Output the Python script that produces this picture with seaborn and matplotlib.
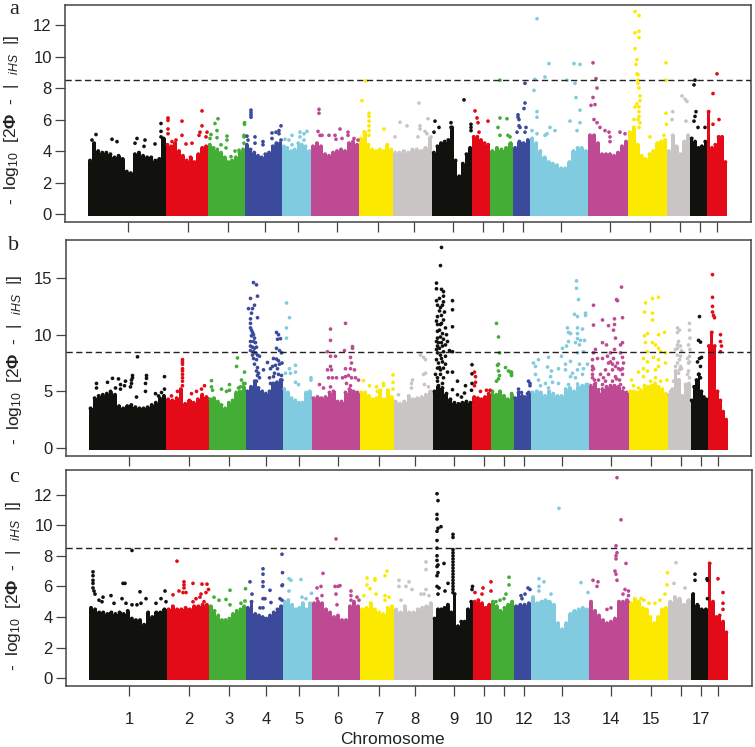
#!/usr/bin/env python3
"""
Manhattan plots of iHS scores, three panels.
"""
import numpy as np
import pandas as pd
import matplotlib
matplotlib.use('Agg')
import matplotlib.pyplot as plt
import seaborn as sns

W, H = 755, 747

# genome axis runs on one position scale shared by the panels
chrom_edges = [88, 165.5, 208, 245, 282, 311, 359, 393, 432, 471.9, 490, 513, 530, 588, 628, 667, 690, 707, 727]
chrom_colors = ['#11110d', '#e30b17', '#43ad35', '#3c4a9b', '#80cbdf', '#bd4a93', '#fbea00', '#c8c5c4',
                '#11110d', '#e30b17', '#43ad35', '#3c4a9b', '#80cbdf', '#bd4a93', '#fbea00', '#c8c5c4',
                '#11110d', '#e30b17']
tick_pos = [128, 188, 228, 265, 298, 337, 378, 414, 453, 483, 503, 523, 561, 610, 650, 680, 700, 717]
tick_labels = ['1', '2', '3', '4', '5', '6', '7', '8', '9', '10', '', '12', '13', '14', '15', '', '17', '']
threshold = 8.5

# solid mass height across each chromosome
env_a = [
    [3.4, 4.5, 4.0, 3.9, 3.9, 3.8, 3.6, 3.7, 3.5, 2.7, 2.6, 3.8, 3.9, 3.7, 3.6, 3.6, 3.4, 3.5, 4.8],
    [4.4, 4.3, 4.5, 4.0, 3.7, 3.4, 3.6, 3.3, 3.8, 4.2, 4.3],
    [4.4, 4.2, 4.1, 3.9, 3.6, 3.3, 3.4, 3.6, 3.9, 4.1],
    [4.4, 4.1, 3.9, 3.7, 3.6, 3.8, 3.9, 4.3, 4.5, 4.5],
    [4.3, 4.2, 4.0, 4.1, 4.5, 4.4, 4.3, 4.0],
    [4.3, 4.5, 4.3, 3.8, 3.7, 3.9, 4.0, 4.1, 4.0, 4.5, 4.6, 4.4],
    [4.8, 5.2, 4.4, 4.1, 4.0, 4.1, 4.0, 4.4, 4.1],
    [3.9, 3.9, 4.0, 3.9, 4.1, 4.1, 4.0, 4.2, 4.8],
    [3.9, 4.3, 4.5, 4.6, 4.7, 5.5, 3.4, 2.4, 3.2, 3.8, 4.2],
    [4.9, 4.9, 4.7, 4.5, 4.4],
    [4.0, 4.2, 4.1, 4.2, 4.5],
    [4.2, 4.6, 4.5, 4.7],
    [4.8, 4.5, 4.0, 3.6, 3.3, 3.2, 3.1, 2.9, 2.9, 3.3, 4.0, 4.2, 4.2, 4.0],
    [5.0, 5.0, 4.5, 3.8, 3.8, 3.8, 3.7, 3.9, 4.3, 4.6],
    [5.2, 5.5, 4.4, 3.7, 3.5, 3.8, 4.0, 4.5, 4.6, 4.7],
    [4.0, 5.0, 4.3, 3.8, 4.6, 5.0],
    [4.8, 4.6, 4.2, 4.3, 4.6],
    [6.5, 4.2, 4.4, 4.9, 4.9, 3.3],
]
env_b = [
    [3.5, 4.4, 4.6, 4.7, 4.8, 4.9, 4.7, 3.7, 3.5, 3.7, 3.8, 3.6, 3.5, 3.5, 3.6, 3.8, 4.0, 4.4, 4.6],
    [4.3, 4.2, 4.4, 5.2, 3.9, 4.2, 4.0, 4.3, 4.7, 4.5],
    [4.3, 4.4, 4.1, 3.8, 3.5, 4.0, 4.2, 4.9, 5.0, 5.4],
    [5.0, 5.4, 5.9, 5.3, 5.0, 4.8, 5.0, 5.7, 5.8, 6.0],
    [5.2, 4.9, 4.4, 4.2, 4.0, 4.0, 4.9, 5.0],
    [4.4, 4.5, 4.4, 4.5, 4.9, 5.0, 4.1, 4.1, 4.9, 5.2, 5.0, 4.9],
    [4.9, 4.9, 4.6, 4.3, 4.4, 5.1, 4.3, 5.1, 4.5],
    [4.1, 3.9, 4.1, 4.6, 4.3, 4.4, 4.5, 4.7, 5.0],
    [5.0, 5.5, 5.3, 4.8, 4.3, 4.0, 3.9, 4.0, 4.1, 4.0],
    [4.5, 4.4, 4.3, 4.5, 4.8],
    [5.0, 4.7, 5.0, 4.6, 4.3, 4.8],
    [4.4, 4.9, 4.6, 4.5, 4.9],
    [4.9, 5.0, 4.9, 4.6, 5.0, 4.8, 4.6, 4.6, 5.2, 5.3, 5.0, 5.4, 5.5, 5.6],
    [5.5, 5.6, 4.9, 5.2, 5.4, 5.5, 5.5, 5.4, 5.0, 4.9],
    [5.0, 5.0, 4.9, 5.1, 5.5, 5.4, 5.5, 5.7, 5.4, 5.2, 4.8],
    [4.7, 5.2, 6.8, 6.0, 4.6, 5.6, 5.7],
    [4.2, 5.4, 6.0, 6.5, 5.0, 4.5, 4.3],
    [9.0, 10.2, 9.0, 5.0, 4.2, 3.2, 2.5],
]
env_c = [
    [4.6, 4.5, 4.3, 4.3, 4.2, 4.3, 4.2, 4.3, 4.2, 4.4, 3.9, 3.8, 3.8, 3.5, 4.3, 4.0, 4.3, 4.3, 4.5],
    [4.5, 4.7, 4.5, 4.5, 4.6, 4.5, 4.7, 4.7, 4.8, 4.8],
    [4.7, 4.4, 4.1, 3.8, 3.8, 3.9, 4.2, 4.4, 4.5, 4.7],
    [4.6, 5.0, 4.2, 4.1, 4.0, 3.9, 4.1, 4.3, 4.5, 4.7],
    [5.0, 5.1, 4.8, 4.5, 4.6, 4.9, 4.5, 4.9],
    [4.9, 5.0, 4.9, 4.5, 4.3, 4.0, 4.1, 3.8, 3.8, 4.7, 5.0, 4.7],
    [4.5, 4.6, 4.9, 4.5, 4.3, 4.2, 4.6, 4.7],
    [4.5, 4.3, 4.7, 4.3, 4.3, 4.5, 4.6, 4.7, 4.9],
    [3.9, 4.5, 4.5, 4.6, 4.8, 4.3, 5.5, 3.4, 3.7, 3.7, 4.5, 5.0],
    [5.0, 5.1, 4.9, 4.6, 4.8],
    [5.0, 4.7, 4.4, 4.6, 4.8, 5.0],
    [4.7, 4.8, 4.8, 4.9],
    [5.3, 4.9, 5.0, 5.1, 5.0, 4.8, 3.6, 3.2, 3.6, 4.2, 4.4, 4.5, 4.6, 4.5],
    [5.0, 4.4, 4.1, 3.8, 3.6, 3.7, 3.9, 5.0, 5.0, 5.1],
    [4.9, 5.2, 5.0, 4.6, 4.5, 4.0, 3.6, 4.0, 4.5, 4.6],
    [5.0, 5.3, 5.2, 4.8, 5.1],
    [5.5, 4.8, 4.5, 4.5],
    [7.5, 5.0, 4.0, 4.1, 3.7, 3.0],
]

# isolated markers above the mass, (position, score)
hits_a = [
    (96, 5.05), (92, 4.7), (112, 4.75), (117, 4.6), (137, 4.8), (145, 4.7), (135, 4.5), (144, 4.3), (155, 4.45),
    (161, 5.75), (161, 5.25), (161, 4.9),
    (168, 6.1), (168, 5.95), (168, 5.4), (168, 5.1), (182, 5.9), (182, 5.0), (202, 6.55), (202, 5.6), (200, 5.2),
    (199, 5.0), (207, 5.2), (206, 4.9), (172, 4.6), (176, 4.7), (186, 4.45), (192, 4.5),
    (218, 6.05), (215, 5.75), (217, 5.3), (211, 5.05), (217, 4.85), (210, 4.8), (227, 4.95), (227, 4.7), (221, 4.4),
    (226, 4.2), (231, 3.65), (235, 4.0), (239, 4.05), (244.5, 5.8), (244.5, 5.7), (244, 5.0), (244, 4.9), (244, 4.5),
    (251, 6.6), (251, 6.45), (251, 6.3), (251, 6.15), (247, 4.95), (255, 4.9), (248, 4.7), (255, 4.5), (263, 4.6),
    (263, 4.4), (272, 5.15), (272, 4.8), (276, 5.2), (279, 5.3), (281, 5.6), (279, 5.1), (281, 4.7), (276, 4.4),
    (292, 5.0), (285, 4.75), (289, 4.7), (300, 5.2), (304, 5.1), (307, 5.25), (300, 4.9), (304, 4.7), (292, 4.4),
    (319, 6.65), (319, 6.4), (318, 5.25), (320, 5.0), (322, 5.0), (329, 5.0), (335, 5.0), (336, 4.75), (340, 5.4),
    (348, 5.2), (348, 5.0), (354, 4.8), (358, 4.7), (342, 4.8),
    (366, 8.45), (362, 7.2), (369, 6.4), (369, 6.2), (369, 5.9), (369, 5.6), (369, 5.3), (369, 5.0), (364, 5.2), (384, 5.4),
    (400, 5.83), (407, 5.6), (395, 4.9), (420, 5.6), (420, 5.4), (419, 7.05), (428, 6.05), (418, 4.9), (431, 4.9),
    (425, 5.25), (427, 5.1),
    (464, 7.25), (435, 5.9), (439, 5.5), (434, 5.2), (471, 5.7), (471, 5.5), (471, 5.3), (451, 5.8), (451, 5.5),
    (475, 6.55), (477, 6.1), (478, 5.8), (479, 5.2), (488, 5.9),
    (500, 8.5), (500, 6.1), (507, 6.05), (498, 5.5), (500, 5.0), (508, 5.0), (510, 4.9),
    (525, 8.3), (525, 7.05), (524, 6.7), (518, 6.3), (518, 6.15), (519, 6.0), (519, 5.6), (520, 5.5), (526, 5.5),
    (517, 5.2), (525, 5.2),
    (537, 12.4), (549, 9.55), (545, 8.7), (535, 8.55), (534, 7.85), (537, 6.5), (537, 6.15), (550, 5.5), (555, 5.3),
    (574, 9.55), (580, 9.5), (567, 8.5), (575, 8.3), (576, 7.4), (580, 6.6), (570, 5.9), (580, 5.8), (577, 5.3),
    (532, 5.3), (537, 5.1), (545, 5.0), (547, 5.1),
    (593, 9.6), (596, 8.6), (597, 8.0), (593, 7.4), (591, 6.9), (595, 6.95), (594, 6.0), (597, 5.8), (600, 5.5),
    (605, 5.3), (609, 5.2), (610, 4.9), (610, 4.6), (620, 5.2), (625, 5.1),
    (635, 12.85), (639, 12.6), (635, 11.5), (639, 11.6), (639, 11.2), (635, 10.5), (637, 9.8), (636, 9.5), (637, 8.9),
    (638, 8.85), (638, 8.5), (638, 8.3), (639, 8.0), (640, 7.5), (640, 7.2), (637, 7.0), (635, 6.8), (639, 6.8),
    (639, 6.5), (639, 6.2), (638, 6.0), (634, 6.0), (640, 5.8), (639, 5.5),
    (666, 9.6), (666, 8.5), (666, 6.4), (666.5, 5.7), (664, 5.0), (650, 4.9),
    (682, 7.5), (685, 7.3), (687, 7.15), (672.7, 6.5), (672, 6.0), (686, 5.9),
    (695, 8.5), (694, 8.2), (696, 6.5), (695, 6.2), (694, 5.9), (698, 5.5), (705, 5.5),
    (717, 8.9), (713, 7.65), (719, 6.0), (713, 5.7),
]
hits_b = [
    (96, 5.7), (96, 5.3), (107, 5.8), (112, 6.15), (118, 6.1), (120, 5.6), (120, 5.2), (125, 5.9), (124, 5.5),
    (132, 6.4), (132, 6.2), (131, 6.0), (131, 5.7), (130, 5.4), (136, 4.5), (137, 8.05), (146, 6.4), (146, 6.15),
    (145, 5.7), (145, 5.0), (155, 4.8), (158, 4.6), (164, 6.3), (164, 5.2), (161, 4.9), (110, 5.0), (115, 5.3),
    (182, 7.8), (182, 7.6), (182, 7.4), (182, 7.0), (182, 6.8), (182, 6.5), (182, 6.2), (182, 5.9), (182, 5.5),
    (171, 4.6), (177, 5.0), (191, 4.8), (196, 5.0), (204, 5.5), (201, 5.2),
    (211, 5.95), (211, 5.4), (221, 5.2), (229, 5.6), (229, 5.1), (226, 5.0), (212, 5.1), (237, 7.95), (236, 7.2),
    (244, 6.7), (241, 6.0), (243, 5.7), (240, 5.4), (244.5, 5.7), (238, 5.3),
    (253, 14.6), (256, 14.4), (257, 13.4), (250, 13.2), (254, 12.6), (248, 12.3), (252, 12.3), (251, 11.9), (250, 11.4),
    (257, 11.5), (250, 11.0), (250, 10.6), (251, 10.4), (252, 10.2), (251, 9.9), (253, 10.0), (254, 9.7), (250, 9.4),
    (253, 9.4), (255, 9.3), (250, 9.0), (252, 8.9), (254, 8.8), (256, 8.9), (250, 8.6), (253, 8.5), (255, 8.4),
    (252, 8.2), (257, 8.2), (259, 8.1), (253, 7.9), (256, 7.8), (254, 7.4), (257, 7.1), (256, 6.8), (258, 6.6),
    (257, 6.4), (259, 6.2), (256, 5.9), (263, 6.9), (267, 7.55), (270, 7.0), (276, 10.2), (278, 10.0), (280, 9.65),
    (277, 9.6), (276, 8.8), (279, 8.6), (281, 8.4), (273, 7.9), (276, 7.85), (278, 7.7), (279, 7.4), (281.5, 7.5),
    (272, 7.2), (275, 7.3), (277, 7.0), (269, 6.2), (273, 6.3), (274, 6.6), (278, 6.5), (281, 6.4), (281.5, 6.0),
    (270, 5.7), (274, 5.5), (278, 5.6),
    (286, 12.8), (289, 11.5), (286, 10.6), (286, 9.7), (285, 6.6), (289, 7.0), (295, 7.3), (295, 6.7), (290, 6.6),
    (295, 5.8), (298, 5.6), (310.5, 6.2), (310.5, 6.0),
    (330, 10.5), (345, 11.0), (330, 9.5), (327, 8.5), (330, 8.1), (335, 8.1), (344, 8.6), (352, 8.95), (352, 8.8),
    (350, 8.0), (351, 7.5), (327, 6.9), (331, 6.9), (330, 7.2), (328, 6.2), (332, 6.2), (336, 6.2), (319, 5.6),
    (323, 5.3), (330, 5.4), (345, 7.0), (350, 7.0), (354, 6.9), (342, 6.2), (345, 6.3), (348, 6.4), (351, 6.2),
    (355, 6.2), (358, 6.0), (346, 5.7), (350, 5.5),
    (363, 5.95), (369, 5.5), (376, 5.4), (377, 5.0), (392.5, 6.45), (392.5, 5.8), (392.5, 5.2), (383, 5.7), (383, 5.5),
    (420, 8.2), (423, 8.0), (425, 7.8), (425, 6.6), (423, 6.5), (412, 6.0), (411, 5.7), (411, 5.3), (424, 5.6),
    (428, 5.4), (398, 4.7),
    (441, 17.7), (440, 16.1), (436, 14.55), (436, 14.05), (441, 14.0), (443, 13.8), (443, 13.4), (436, 13.0), (443, 12.9),
    (452, 13.0), (437, 12.6), (442, 12.6), (452, 12.2), (439, 12.1), (444, 12.0), (437, 11.6), (441, 11.7), (443, 11.3),
    (452, 10.7), (437, 10.9), (440, 10.9), (445, 10.6), (437, 10.3), (442, 10.1), (446, 10.0), (437, 9.7), (443, 9.6),
    (438, 9.3), (447, 9.4), (437, 9.0), (442, 9.0), (449, 8.6), (452, 8.5), (437, 8.4), (443, 8.5), (436, 7.8),
    (445, 8.1), (438, 7.5), (442, 7.6), (437, 7.05), (443, 7.05), (447, 6.7), (452, 6.7), (435, 6.5), (440, 6.5),
    (443, 6.2), (437, 5.9), (457, 5.9), (465, 5.5), (452, 5.15), (457, 4.7), (461, 4.5), (464, 4.85), (471.5, 7.35),
    (471.5, 6.55), (471.5, 5.7), (471, 5.1),
    (439, 13.2), (440, 12.4), (441, 11.0), (439, 10.4), (440, 9.8), (441, 9.3), (439, 8.8), (440, 8.2), (441, 7.9),
    (439, 7.1), (440, 6.9), (437, 6.2), (442, 5.7), (436, 11.2), (436, 9.4), (436, 8.7), (445, 9.1), (445, 7.4),
    (474, 6.7), (475, 6.3), (475, 5.8), (474, 5.5), (480, 5.0), (486, 5.1), (489.5, 5.1),
    (496, 11.0), (498, 9.8), (499, 8.4), (498, 7.4), (497, 7.3), (498, 6.8), (499, 6.4), (498, 6.1), (496, 5.9),
    (505, 7.1), (508, 6.8), (511, 6.7), (511, 6.5), (510, 6.7), (511, 6.4),
    (518, 5.2), (528, 5.9), (529.5, 5.7), (529.5, 5.5), (521, 4.9), (527, 4.8),
    (576, 14.75), (576, 14.1), (578, 13.1), (574, 11.8), (577, 11.6), (585, 11.9), (585, 11.7), (567, 10.6), (577, 10.6),
    (582, 10.5), (570, 10.1), (577, 10.1), (568, 10.2), (577, 9.65), (584, 9.5), (580, 9.5), (568, 9.4), (575, 9.3),
    (579, 9.1), (566, 9.0), (562, 8.8), (577, 8.4), (583, 8.5), (561, 8.1), (548, 8.0), (538, 7.8), (533, 7.5),
    (535, 7.2), (565, 7.4), (570, 7.65), (579, 7.4), (587, 7.4), (547, 7.15), (551, 6.8), (558, 7.0), (565, 6.9),
    (572, 6.6), (577, 6.9), (583, 7.0), (535, 6.5), (538, 6.0), (550, 6.3), (570, 6.3), (575, 6.2), (582, 6.5),
    (545, 5.7), (552, 5.8), (558, 5.7), (568, 5.6), (577, 5.65), (587.5, 5.6), (540, 5.5), (548, 5.3), (568, 5.0), (580, 5.15),
    (593, 12.6), (621, 14.2), (616, 13.1), (617, 13.0), (602, 11.3), (593, 10.85), (614, 11.4), (622, 11.5), (608, 10.8),
    (614, 10.9), (613, 10.4), (615, 9.7), (602, 9.3), (606, 9.1), (622, 9.3), (620, 9.1), (595, 8.7), (593, 8.4),
    (614, 8.7), (610, 8.4), (620, 8.4), (592, 7.8), (597, 7.9), (602, 7.9), (607, 8.1), (613, 7.9), (622, 8.0),
    (608, 7.5), (617, 7.5), (623, 7.5), (593, 7.0), (612, 6.9), (620, 6.9), (592, 6.5), (603, 6.2), (608, 6.5),
    (615, 6.3), (622, 6.5), (595, 5.7), (602, 5.6), (612, 5.9), (620, 5.6), (598, 5.15), (607, 5.0), (617, 5.15), (623, 5.3),
    (592, 7.2), (592, 6.9), (592, 6.2), (594, 6.0), (610, 7.6), (612, 7.4), (615, 7.2), (618, 7.0), (622, 7.0),
    (605, 6.9), (600, 6.5), (598, 6.0), (605, 5.9), (616, 6.1), (619, 6.0),
    (645, 12.8), (652, 13.2), (658, 13.3), (644, 12.0), (652, 11.9), (652, 11.3), (647, 10.1), (644, 9.9), (658, 10.0),
    (664, 10.2), (645, 9.3), (652, 9.3), (655, 9.1), (658, 8.8), (660, 8.5), (647, 8.5), (665, 8.4), (643, 7.9),
    (653, 8.0), (647, 7.6), (658, 7.8), (665, 7.5), (638, 6.7), (643, 7.0), (647, 6.8), (655, 6.9), (658, 7.2),
    (631, 6.0), (633, 5.5), (638, 5.3), (643, 6.3), (650, 5.9), (655, 6.2), (660, 5.9), (666.5, 6.0), (647, 5.3), (657, 5.4),
    (677, 10.6), (679, 10.4), (689, 11.0), (677, 10.2), (689, 10.4), (678, 9.4), (677, 9.1), (680, 9.0), (689.5, 9.7),
    (688, 9.1), (689.5, 8.7), (677, 8.2), (680, 8.1), (689, 8.1), (677, 7.5), (680, 7.2), (688, 7.5), (678, 6.6),
    (673, 5.9), (677, 6.0), (688, 6.8), (689, 6.2), (670, 5.0), (675, 8.7), (677, 8.8), (679, 7.8), (681, 8.6),
    (675, 7.2), (679, 6.9), (681, 7.0), (687, 7.9), (689, 7.6), (687, 6.5),
    (699, 11.6), (698, 9.5), (700, 9.35), (701, 8.0), (699, 7.9), (697, 7.6), (700, 7.2), (698, 6.5), (700, 6.2),
    (697, 5.7), (695, 5.3),
    (712, 15.3), (712, 13.3), (712, 12.5), (712, 12.0), (713, 11.7), (714, 11.5), (720, 10.0), (720, 9.4), (721, 9.0), (720, 8.5),
]
hits_c = [
    (92, 6.95), (92, 6.7), (92, 6.4), (92, 6.2), (92, 5.9), (93, 5.7), (94, 5.5), (98, 5.1), (101, 5.0), (102, 5.3),
    (110, 5.4), (113, 4.9), (122, 6.2), (124, 6.2), (121, 5.2), (125, 4.9), (131, 8.35), (139, 5.65), (145, 5.2),
    (131, 4.8), (136, 4.8), (140, 4.9), (155, 4.9), (160, 5.2), (164, 5.7), (165, 5.0),
    (176, 7.65), (183, 6.3), (183, 6.1), (183, 5.9), (192, 6.2), (201, 6.15), (206, 6.15), (172, 5.45), (178, 5.7),
    (182, 5.6), (185, 5.6), (192, 5.0), (195, 5.2), (200, 5.5), (199, 5.3), (203, 5.0), (207.5, 5.8), (205, 5.6),
    (213, 5.3), (218, 5.1), (229, 5.75), (225, 5.15), (229, 4.8), (240, 4.9), (244, 5.05), (244.5, 5.85),
    (249, 6.3), (262, 7.15), (262, 6.8), (262, 6.3), (262, 6.0), (269, 5.75), (281, 8.1), (281.5, 6.9), (281, 6.05),
    (281.5, 6.1), (279, 5.2), (281, 5.1), (270, 4.95), (262, 5.2), (264, 5.2), (251, 5.5), (259, 4.6), (262, 4.6),
    (288, 6.5), (290, 6.4), (300, 6.45), (288, 5.7), (301, 5.3), (305, 5.2), (310.5, 5.55),
    (335, 9.1), (322, 6.85), (320, 6.0), (316, 5.9), (321, 5.4), (316, 5.2), (334, 6.0), (337, 6.0), (339, 6.05),
    (335, 5.5), (336, 4.8), (350, 5.7), (350, 5.4), (350, 5.1), (356, 5.3), (358, 5.1),
    (366, 6.55), (366, 6.1), (374, 6.5), (374, 6.4), (386, 7.0), (384, 6.7), (384, 5.4), (388, 5.3), (384, 5.1),
    (375, 5.5), (369, 5.85), (363, 5.4),
    (425, 7.6), (425, 7.1), (398, 6.4), (408, 6.3), (398, 6.0), (405, 6.0), (411, 5.8), (420, 5.5), (425, 5.8),
    (423, 5.5), (428, 5.4), (400, 5.1),
    (436, 12.05), (437, 11.6), (436, 10.7), (436, 10.4), (440, 9.9), (437, 9.8), (436, 9.6), (436, 9.0), (436, 8.5),
    (436, 8.0), (436, 7.7), (437, 7.4), (436, 7.3), (443, 7.5), (437, 6.9), (436, 6.7), (447, 6.2), (436, 6.0),
    (438, 5.9), (444, 5.7), (437, 5.5), (452, 9.4), (452, 9.2),
    (452, 8.4), (452, 8.2), (452, 8.0), (452, 7.8), (452, 7.6), (452, 7.4), (452, 7.2), (452, 7.0), (452, 6.8),
    (452, 6.6), (452, 6.4), (452, 6.2), (452, 6.0), (452, 5.8), (452, 5.6),
    (471.5, 6.0), (471, 5.8),
    (482, 5.9), (490, 6.3), (490, 5.7), (474, 5.6), (481, 5.5),
    (508, 6.6), (508, 6.1), (505, 5.5), (495, 5.0), (499, 5.1), (503, 5.2),
    (527, 5.9), (529, 5.8), (520, 5.4), (524, 5.5), (521, 5.2),
    (558, 11.1), (538, 6.5), (543, 6.3), (538, 6.0), (538, 5.7), (550, 5.5), (580, 6.25), (587, 5.6),
    (616, 13.1), (620, 10.35), (615, 8.65), (616, 8.2), (615, 8.0), (615, 7.8), (625, 7.5), (614, 7.0), (615, 6.8),
    (616, 6.4), (592, 6.4), (597, 6.3), (596, 6.0), (624, 5.8), (627.5, 5.7), (622, 5.5), (627.5, 5.4), (627, 5.0), (610, 4.6), (606, 4.5),
    (640, 5.2), (643, 5.1), (648, 4.9), (654, 4.9), (666.5, 6.9), (666, 6.1), (664, 5.5), (659, 5.1),
    (675, 7.55), (673, 6.2), (684, 5.9),
    (694, 6.8), (694, 6.4), (706, 6.5), (706.5, 6.4), (706.5, 5.2),
    (717, 6.5), (722, 5.6), (722, 4.9), (722, 4.5),
]

panels = [
    ('a', env_a, hits_a, [0, 2, 4, 6, 8, 10, 12], (-0.5, 13.27), (65, 750.5, 5, 222), 9, 12, 120),
    ('b', env_b, hits_b, [0, 5, 10, 15], (-0.7, 18.4), (65.5, 751, 239.5, 456), 246, 15, 360),
    ('c', env_c, hits_c, [0, 2, 4, 6, 8, 10, 12], (-0.5, 13.6), (66, 751.5, 470, 686), 478, 14, 586),
]


def hits_frame(hits):
    df = pd.DataFrame(hits, columns=['pos', 'score'])
    df['chrom'] = np.searchsorted(chrom_edges, df['pos'].values) - 1
    return df


def draw_panel(fig, letter, env, hits, yticks, ylim, box, letter_y, label_x, label_y):
    left, right, top, bottom = box
    ax = fig.add_axes([left / W, 1 - bottom / H, (right - left) / W, (bottom - top) / H])

    # solid mass of each chromosome, capped with markers like the real points
    caps = []
    for i, heights in enumerate(env):
        edges = np.linspace(chrom_edges[i], chrom_edges[i + 1], len(heights) + 1)
        mids = (edges[:-1] + edges[1:]) / 2
        ax.fill_between(edges, -0.13, heights + heights[-1:], step='post', color=chrom_colors[i], linewidth=0)
        caps += [(m, h, i) for m, h in zip(mids, heights)]
    cap_df = pd.DataFrame(caps, columns=['pos', 'score', 'chrom'])
    df = hits_frame(hits)

    palette = dict(enumerate(chrom_colors))
    sns.scatterplot(data=cap_df, x='pos', y='score', hue='chrom', palette=palette, s=8, linewidth=0,
                    legend=False, ax=ax, zorder=3)
    sns.scatterplot(data=df, x='pos', y='score', hue='chrom', palette=palette, s=7, linewidth=0,
                    legend=False, ax=ax, zorder=3)

    ax.axhline(threshold, color='#222222', linestyle=(0, (4.5, 2.5)), linewidth=1, zorder=4)
    ax.set_xlim(65, 750.5)
    ax.set_ylim(*ylim)
    ax.set_yticks(yticks)
    ax.set_xticks(tick_pos)
    ax.set_xticklabels(tick_labels if letter == 'c' else [''] * len(tick_pos))
    ax.set_xlabel('')
    ax.set_ylabel('')
    ax.tick_params(axis='both', bottom=True, left=True, length=7.5, width=0.9, color='#444444',
                   labelcolor='#222222', labelsize=12)
    ax.tick_params(axis='x', pad=11)
    ax.tick_params(axis='y', pad=2)
    for s in ax.spines.values():
        s.set_visible(True)
        s.set_color('#444444')
        s.set_linewidth(1.1)
    fig.text(14 / W, 1 - letter_y / H, letter, family='Liberation Serif', fontsize=16, color='#222222',
             ha='center', va='center')
    fig.text(label_x / W, 1 - label_y / H,
             '-  log$_{10}$  [2$\\mathbf{\\Phi}$  -  |  $_{iHS}$  |]',
             rotation=90, fontsize=12.5, color='#222222', ha='center', va='center')
    return ax


def main():
    sns.set_theme(style='white')
    plt.rcParams['font.family'] = ['Liberation Sans', 'DejaVu Sans']
    plt.rcParams['mathtext.fontset'] = 'custom'
    plt.rcParams['mathtext.rm'] = 'Liberation Sans'
    plt.rcParams['mathtext.it'] = 'Liberation Sans:italic'
    plt.rcParams['mathtext.bf'] = 'Liberation Sans:bold'
    plt.rcParams['mathtext.default'] = 'it'

    fig = plt.figure(figsize=(W / 100, H / 100), dpi=100, facecolor='white')
    for p in panels:
        draw_panel(fig, *p)
    fig.text(392 / W, 1 - 739 / H, 'Chromosome', fontsize=12.5, color='#222222', ha='center', va='center')
    fig.savefig('out.png', dpi=100)
    print("Plot saved to: out.png")


if __name__ == '__main__':
    main()
